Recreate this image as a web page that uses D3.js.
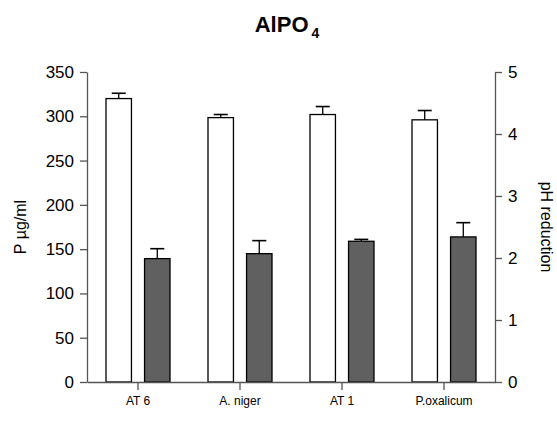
<!DOCTYPE html>
<html>
<head>
<meta charset="utf-8">
<script src="https://cdn.jsdelivr.net/npm/d3@7"></script>
<style>
  body { margin: 0; background: #fff; }
  svg { font-family: "Liberation Sans", Arial, sans-serif; }
  .axis path, .axis line { stroke: #555; stroke-width: 1.3px; }
  .axis text { fill: #000; }
</style>
</head>
<body>
<script>
// data
var categories = ["AT 6", "A. niger", "AT 1", "P.oxalicum"];
var pValues  = [320, 298.5, 302, 296];     // P µg/ml (white bars, left axis)
var pErr     = [6, 3.5, 9, 10.5];
var phValues = [1.99, 2.07, 2.27, 2.34];   // pH reduction (dark bars, right axis)
var phErr    = [0.16, 0.21, 0.03, 0.23];
var leftTicks  = [0, 50, 100, 150, 200, 250, 300, 350];
var rightTicks = [0, 1, 2, 3, 4, 5];

var W = 557, H = 425,
    plotLeft = 87, plotRight = 495, plotTop = 72, plotBottom = 382;

var svg = d3.select("body").append("svg")
    .attr("width", W)
    .attr("height", H);

// scales
var x = d3.scaleBand()
    .domain(categories)
    .range([plotLeft, plotRight]);

var sub = d3.scaleBand()
    .domain(["p", "ph"])
    .range([-32, 32])
    .paddingInner(0.34);

var yL = d3.scaleLinear().domain([0, 350]).range([plotBottom, plotTop]);
var yR = d3.scaleLinear().domain([0, 5]).range([plotBottom, plotTop]);

// bars
var rows = categories.map((c, i) => ({cat: c, p: pValues[i], pe: pErr[i], ph: phValues[i], phe: phErr[i]}));

var g = svg.append("g");

function drawSeries(key, errKey, scale, fill) {
  var bw = sub.bandwidth();
  g.selectAll("rect." + key)
    .data(rows)
    .enter().append("rect")
      .attr("class", key)
      .attr("x", d => x(d.cat) + x.bandwidth() / 2 + sub(key))
      .attr("width", bw)
      .attr("y", d => scale(d[key]))
      .attr("height", d => plotBottom - scale(d[key]))
      .attr("fill", fill)
      .attr("stroke", "#000")
      .attr("stroke-width", 1.3);

  var cx = d => x(d.cat) + x.bandwidth() / 2 + sub(key) + bw / 2;
  g.selectAll("line.err" + key)
    .data(rows)
    .enter().append("line")
      .attr("x1", cx).attr("x2", cx)
      .attr("y1", d => scale(d[key]))
      .attr("y2", d => scale(d[key] + d[errKey]))
      .attr("stroke", "#000").attr("stroke-width", 1.3);
  g.selectAll("line.cap" + key)
    .data(rows)
    .enter().append("line")
      .attr("x1", d => cx(d) - 7).attr("x2", d => cx(d) + 7)
      .attr("y1", d => scale(d[key] + d[errKey]))
      .attr("y2", d => scale(d[key] + d[errKey]))
      .attr("stroke", "#000").attr("stroke-width", 1.6);
}

drawSeries("p", "pe", yL, "#fff");
drawSeries("ph", "phe", yR, "#606060");

// axes
svg.append("g")
    .attr("class", "axis")
    .attr("transform", "translate(" + plotLeft + ",0)")
    .call(d3.axisLeft(yL).tickValues(leftTicks).tickSize(7).tickSizeOuter(0).tickPadding(6))
    .selectAll("text").style("font-size", "17px");

svg.append("g")
    .attr("class", "axis")
    .attr("transform", "translate(" + plotRight + ",0)")
    .call(d3.axisRight(yR).tickValues(rightTicks).tickFormat(d3.format("d"))
      .tickSize(7).tickSizeOuter(0).tickPadding(6))
    .selectAll("text").style("font-size", "17px");

svg.append("g")
    .attr("class", "axis")
    .attr("transform", "translate(0," + plotBottom + ")")
    .call(d3.axisBottom(x).tickSize(8).tickSizeOuter(0).tickPadding(6))
    .selectAll("text").style("font-size", "12px");

// title
var title = svg.append("text")
    .attr("x", 287)
    .attr("y", 32)
    .attr("text-anchor", "middle")
    .style("font-size", "22px")
    .style("font-weight", "bold");
title.append("tspan").text("AlPO");
title.append("tspan").attr("dx", 3).attr("dy", 6).style("font-size", "14px").text("4");

// axis titles
svg.append("text")
    .attr("transform", "translate(26," + (plotTop + plotBottom) / 2 + ") rotate(-90)")
    .attr("text-anchor", "middle")
    .style("font-size", "16px")
    .text("P µg/ml");

svg.append("text")
    .attr("transform", "translate(541," + (plotTop + plotBottom) / 2 + ") rotate(90)")
    .attr("text-anchor", "middle")
    .style("font-size", "16px")
    .text("pH reduction");
</script>
</body>
</html>
